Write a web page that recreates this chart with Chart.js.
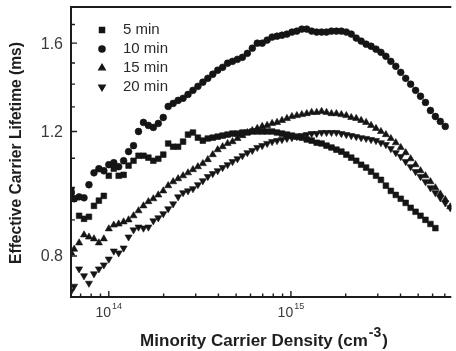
<!DOCTYPE html>
<html>
<head>
<meta charset="utf-8">
<style>
  html, body { margin: 0; padding: 0; background: #fff; overflow: hidden; }
  #wrap { width: 456px; height: 351px; position: relative; }
</style>
<script src="https://cdn.jsdelivr.net/npm/chart.js@4.4.1/dist/chart.umd.min.js"></script>
</head>
<body>
<div id="wrap"><canvas id="c"></canvas></div>
<script>
// Minority carrier density grid (cm^-3)
const density = [
  6.22e13, 6.45e13, 6.87e13, 7.31e13, 7.78e13, 8.29e13, 8.82e13, 9.39e13,
  1.00e14, 1.065e14, 1.133e14, 1.206e14, 1.284e14, 1.367e14, 1.456e14, 1.550e14,
  1.650e14, 1.756e14, 1.870e14, 1.991e14, 2.119e14, 2.256e14, 2.402e14, 2.557e14,
  2.722e14, 2.898e14, 3.085e14, 3.284e14, 3.496e14, 3.722e14, 3.962e14, 4.217e14,
  4.490e14, 4.779e14, 5.088e14, 5.417e14, 5.767e14, 6.138e14, 6.535e14, 6.957e14,
  7.406e14, 7.884e14, 8.393e14, 8.935e14, 9.512e14, 1.013e15, 1.078e15, 1.148e15,
  1.222e15, 1.300e15, 1.385e15, 1.474e15, 1.569e15, 1.670e15, 1.778e15, 1.893e15,
  2.015e15, 2.145e15, 2.284e15, 2.431e15, 2.588e15, 2.755e15, 2.933e15, 3.122e15,
  3.324e15, 3.538e15, 3.767e15, 4.010e15, 4.269e15, 4.545e15, 4.838e15, 5.150e15,
  5.483e15, 5.837e15, 6.214e15, 6.615e15, 7.042e15, 7.50e15
];

// Effective carrier lifetime (ms) for each anneal time
const lifetime5 = [
  0.989, 0.964, 0.912, 0.903, 0.909, 0.942, 0.958, 0.973,
  1.039, 1.063, 1.039, 1.042, 1.074, 1.091, 1.109, 1.109,
  1.102, 1.091, 1.098, 1.113, 1.154, 1.142, 1.142, 1.161,
  1.188, 1.196, 1.176, 1.165, 1.173, 1.176, 1.180, 1.184,
  1.188, 1.192, 1.192, 1.196, 1.196, 1.200, 1.200, 1.200,
  1.200, 1.200, 1.196, 1.192, 1.188, 1.184, 1.180, 1.176,
  1.169, 1.165, 1.157, 1.154, 1.146, 1.139, 1.131, 1.124,
  1.113, 1.102, 1.091, 1.077, 1.067, 1.053, 1.039, 1.025,
  1.006, 0.989, 0.976, 0.964, 0.951, 0.936, 0.924, 0.912,
  0.900, 0.888, 0.876, null, null, null
];
const lifetime10 = [
  0.983, 0.964, 0.970, 0.967, 1.009, 1.049, 1.063, 1.056,
  1.077, 1.084, 1.070, 1.091, 1.124, 1.146, 1.200, 1.236,
  1.224, 1.216, 1.232, 1.256, 1.302, 1.315, 1.328, 1.337,
  1.354, 1.372, 1.390, 1.409, 1.427, 1.446, 1.465, 1.479,
  1.499, 1.508, 1.518, 1.528, 1.548, 1.574, 1.600, 1.600,
  1.616, 1.632, 1.637, 1.642, 1.648, 1.659, 1.664, 1.675,
  1.675, 1.664, 1.659, 1.659, 1.659, 1.664, 1.664, 1.664,
  1.659, 1.648, 1.627, 1.611, 1.595, 1.584, 1.569, 1.553,
  1.533, 1.508, 1.484, 1.455, 1.427, 1.400, 1.372, 1.346,
  1.319, 1.285, 1.260, 1.240, 1.220, null
];
const lifetime15 = [
  0.808, 0.818, 0.835, 0.857, 0.851, 0.846, 0.835, 0.846,
  0.874, 0.885, 0.888, 0.894, 0.900, 0.912, 0.927, 0.942,
  0.955, 0.964, 0.976, 0.989, 1.006, 1.019, 1.029, 1.039,
  1.049, 1.060, 1.070, 1.081, 1.095, 1.113, 1.131, 1.142,
  1.154, 1.161, 1.173, 1.184, 1.196, 1.204, 1.212, 1.220,
  1.224, 1.232, 1.236, 1.244, 1.252, 1.260, 1.264, 1.268,
  1.272, 1.277, 1.277, 1.281, 1.277, 1.272, 1.272, 1.268,
  1.264, 1.256, 1.252, 1.244, 1.236, 1.224, 1.212, 1.200,
  1.188, 1.173, 1.157, 1.139, 1.120, 1.098, 1.077, 1.056,
  1.039, 1.019, 0.999, 0.979, 0.961, 0.939
];
const lifetime20 = [
  0.714, 0.725, 0.767, 0.750, 0.732, 0.755, 0.767, 0.777,
  0.792, 0.813, 0.808, 0.821, 0.851, 0.871, 0.879, 0.876,
  0.879, 0.897, 0.906, 0.918, 0.933, 0.948, 0.970, 0.983,
  0.989, 0.996, 1.009, 1.022, 1.036, 1.046, 1.056, 1.067,
  1.077, 1.088, 1.098, 1.109, 1.120, 1.128, 1.139, 1.146,
  1.154, 1.161, 1.165, 1.169, 1.173, 1.176, 1.180, 1.184,
  1.188, 1.192, 1.192, 1.196, 1.196, 1.196, 1.196, 1.192,
  1.188, 1.184, 1.180, 1.176, 1.173, 1.169, 1.165, 1.157,
  1.150, 1.135, 1.120, 1.106, 1.088, 1.070, 1.053, 1.036,
  1.019, 0.999, 0.983, 0.967, 0.951, 0.936
];

const seriesLabels = ['5 min', '10 min', '15 min', '20 min'];
const seriesValues = [lifetime5, lifetime10, lifetime15, lifetime20];

// Axis ticks
const yTickValues = [0.8, 1.2, 1.6];
const yTickLabels = ['0.8', '1.2', '1.6'];
const yMinorTicks = [0.7, 0.9, 1.0, 1.1, 1.3, 1.4, 1.5, 1.7, 1.8];
const xTickValues = [1e14, 1e15];
const xTickBase = ['10', '10'];
const xTickExp = ['14', '15'];
const xMinorTicks = [7e13, 8e13, 9e13, 2e14, 3e14, 4e14, 5e14, 6e14, 7e14, 8e14, 9e14,
                     2e15, 3e15, 4e15, 5e15, 6e15, 7e15];

const ink = '#151515';
const markers = [
  { pointStyle: 'rect', rotation: 0, radius: 4.0 },
  { pointStyle: 'circle', rotation: 0, radius: 3.4 },
  { pointStyle: 'triangle', rotation: 0, radius: 4.1 },
  { pointStyle: 'triangle', rotation: 180, radius: 4.1 }
];

const datasets = seriesValues.map((vals, i) => ({
  label: seriesLabels[i],
  data: density.map((d, k) => ({ x: d, y: vals[k] })).filter(p => p.y !== null),
  showLine: false,
  pointStyle: markers[i].pointStyle,
  pointRotation: markers[i].rotation,
  pointRadius: markers[i].radius,
  pointHoverRadius: markers[i].radius,
  pointBackgroundColor: ink,
  pointBorderColor: ink,
  pointBorderWidth: 0.6
}));

function drawMarker(ctx, m, x, y) {
  ctx.fillStyle = ink;
  ctx.strokeStyle = ink;
  if (Chart.helpers && Chart.helpers.drawPoint) {
    Chart.helpers.drawPoint(ctx, { pointStyle: m.pointStyle, rotation: m.rotation, radius: m.radius * 0.9, borderWidth: 0.6 }, x, y);
  }
}

// Frame, inward ticks, tick labels, axis titles and the legend
const framePlugin = {
  id: 'framePlugin',
  afterDraw(chart) {
    const { ctx, chartArea: a, scales } = chart;
    const xs = scales.x, ys = scales.y;
    ctx.save();
    ctx.strokeStyle = '#1c1c1c';
    ctx.lineWidth = 2;
    ctx.beginPath();
    ctx.moveTo(a.right, a.top);
    ctx.lineTo(a.left, a.top);
    ctx.lineTo(a.left, a.bottom);
    ctx.lineTo(a.right, a.bottom);
    ctx.stroke();

    ctx.lineWidth = 1.4;
    ctx.beginPath();
    yTickValues.forEach(v => { const py = ys.getPixelForValue(v); ctx.moveTo(a.left, py); ctx.lineTo(a.left + 6, py); });
    yMinorTicks.forEach(v => { const py = ys.getPixelForValue(v); ctx.moveTo(a.left, py); ctx.lineTo(a.left + 4, py); });
    xTickValues.forEach(v => { const px = xs.getPixelForValue(v); ctx.moveTo(px, a.bottom); ctx.lineTo(px, a.bottom - 6); });
    xMinorTicks.forEach(v => { const px = xs.getPixelForValue(v); ctx.moveTo(px, a.bottom); ctx.lineTo(px, a.bottom - 3.5); });
    ctx.stroke();

    // y tick labels
    ctx.fillStyle = '#3a3a3a';
    ctx.font = '16px "Liberation Sans", Arial, sans-serif';
    ctx.textAlign = 'right';
    ctx.textBaseline = 'middle';
    yTickValues.forEach((v, i) => ctx.fillText(yTickLabels[i], a.left - 8, ys.getPixelForValue(v) + 1));

    // x tick labels with exponent
    ctx.textBaseline = 'alphabetic';
    ctx.textAlign = 'left';
    xTickValues.forEach((v, i) => {
      const px = xs.getPixelForValue(v);
      ctx.font = '14px "Liberation Sans", Arial, sans-serif';
      const wb = ctx.measureText(xTickBase[i]).width;
      ctx.font = '9px "Liberation Sans", Arial, sans-serif';
      const we = ctx.measureText(xTickExp[i]).width;
      const x0 = px - (wb + we + 1) / 2;
      ctx.font = '14px "Liberation Sans", Arial, sans-serif';
      ctx.fillText(xTickBase[i], x0, a.bottom + 20);
      ctx.font = '9px "Liberation Sans", Arial, sans-serif';
      ctx.fillText(xTickExp[i], x0 + wb + 1, a.bottom + 12);
    });

    // axis titles
    ctx.fillStyle = '#1e1e1e';
    const bold = 'bold 17px "Liberation Sans", Arial, sans-serif';
    const supBold = 'bold 14px "Liberation Sans", Arial, sans-serif';
    const t1 = 'Minority Carrier Density (cm', t2 = '-3', t3 = ')';
    ctx.font = bold; const w1 = ctx.measureText(t1).width, w3 = ctx.measureText(t3).width;
    ctx.font = supBold; const w2 = ctx.measureText(t2).width;
    const tx = 264 - (w1 + w2 + w3 + 2) / 2;
    const ty = a.bottom + 49;
    ctx.font = bold; ctx.fillText(t1, tx, ty);
    ctx.font = supBold; ctx.fillText(t2, tx + w1 + 1, ty - 9);
    ctx.font = bold; ctx.fillText(t3, tx + w1 + w2 + 2, ty);

    ctx.save();
    ctx.translate(17, 153);
    ctx.rotate(-Math.PI / 2);
    ctx.textAlign = 'center';
    ctx.textBaseline = 'middle';
    ctx.font = 'bold 15.6px "Liberation Sans", Arial, sans-serif';
    ctx.fillText('Effective Carrier Lifetime (ms)', 0, 0);
    ctx.restore();

    // legend
    ctx.font = '15px "Liberation Sans", Arial, sans-serif';
    ctx.textAlign = 'left';
    ctx.textBaseline = 'middle';
    seriesLabels.forEach((lab, i) => {
      const ly = a.top + 23 + i * 19;
      drawMarker(ctx, markers[i], a.left + 31, ly);
      ctx.fillStyle = '#2a2a2a';
      ctx.fillText(lab, a.left + 52, ly);
    });
    ctx.restore();
  }
};

new Chart(document.getElementById('c'), {
  type: 'scatter',
  data: { datasets },
  options: {
    responsive: true,
    maintainAspectRatio: false,
    animation: false,
    layout: { padding: { left: 71, top: 7, right: 0, bottom: 54 } },
    scales: {
      x: { type: 'logarithmic', display: false, min: 6.2e13, max: 7.6e15 },
      y: { type: 'logarithmic', display: false, min: 0.7, max: 1.8 }
    },
    plugins: { legend: { display: false }, tooltip: { enabled: false } }
  },
  plugins: [framePlugin]
});
</script>
</body>
</html>
